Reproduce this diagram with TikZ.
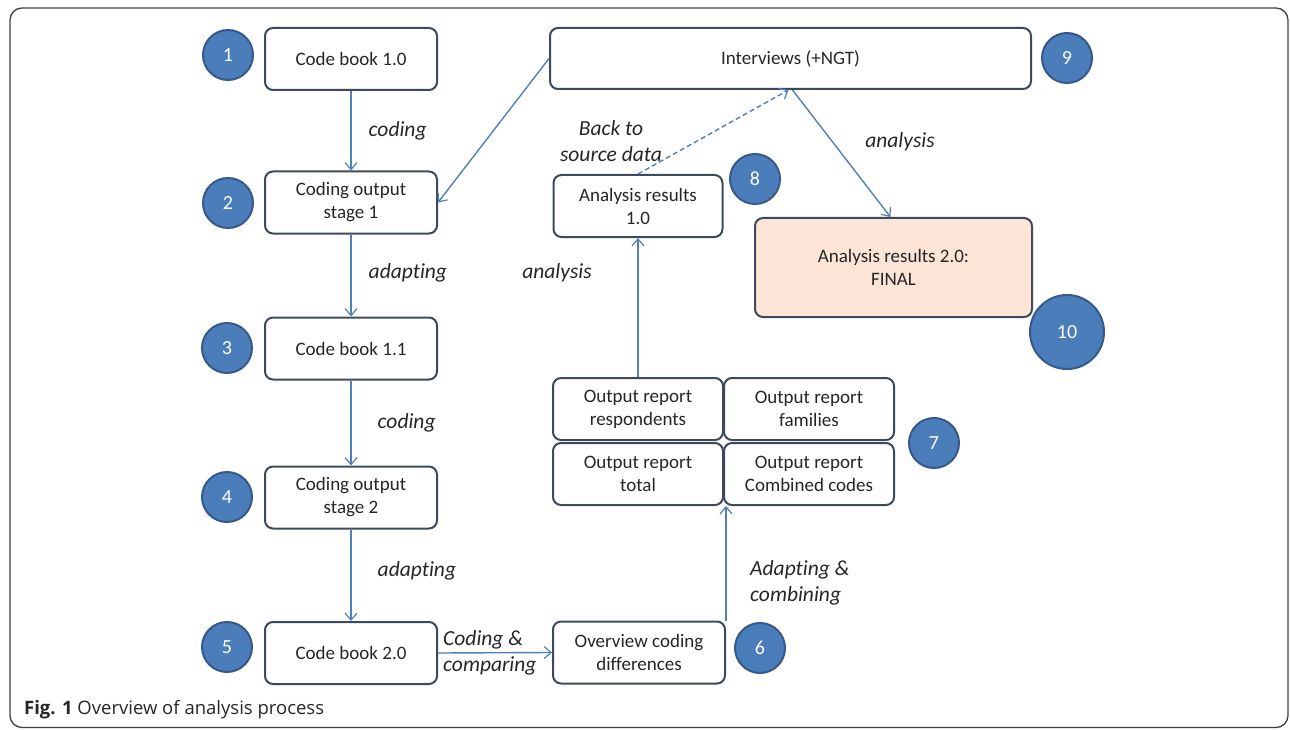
\documentclass[tikz,border=0pt]{standalone}
\usepackage{fontspec}
\setmainfont{Carlito}[Ligatures=NoCommon]
\newfontfamily\capfont{Open Sans}
\usetikzlibrary{positioning,arrows.meta}
\definecolor{boxline}{HTML}{3D4A5C}
\definecolor{numfill}{HTML}{4A7DBA}
\definecolor{numline}{HTML}{36598A}
\definecolor{flowline}{HTML}{5180B9}
\definecolor{finalfill}{HTML}{FCE4D6}
\definecolor{txt}{HTML}{262626}

\begin{document}
\begin{tikzpicture}[
			x=1pt, y=-1pt,
			>={Straight Barb[length=7pt,width=12pt,line width=1.2pt]},
			stage/.style={draw=boxline, line width=2pt, rounded corners=8pt, fill=white,
				minimum width=172pt, minimum height=62pt, inner sep=0pt, align=center,
				text=txt, font=\fontsize{19}{23}\selectfont},
			num/.style={circle, draw=numline, line width=2pt, fill=numfill, minimum size=50pt,
				inner sep=0pt, text=white, font=\fontsize{20}{24}\selectfont},
			lbl/.style={inner sep=0pt, text=txt, font=\fontsize{21.5}{26}\selectfont\itshape},
			flow/.style={->, draw=flowline, line width=1.4pt},
		]
		\useasboundingbox (0,0) rectangle (1290,730);
		\draw[black!75, line width=1.3pt, rounded corners=12pt] (10,8) rectangle (1288,727.5);

		% Left column
		\node[stage] (b1) at (351,59) {Code book 1.0};
		\node[stage] (b2) at (351,202.5) {Coding output\\stage 1};
		\node[stage] (b3) at (351,348.5) {Code book 1.1};
		\node[stage] (b4) at (351,497.5) {Coding output\\stage 2};
		\node[stage] (b5) at (351,653) {Code book 2.0};

		% Middle column
		\node[stage] (b6) at (639,652.5) {Overview coding\\differences};
		\node[stage, minimum width=170pt] (r1) at (638,409) {Output report\\respondents};
		\node[stage, minimum width=170pt] (r2) at (809,409) {Output report\\families};
		\node[stage, minimum width=170pt] (r3) at (638,474) {Output report\\total};
		\node[stage, minimum width=170pt] (r4) at (809,474) {Output report\\Combined codes};
		\node[stage, minimum width=169pt] (b8) at (638,206) {Analysis results\\1.0};

		% Top and right
		\node[stage, minimum width=481pt, minimum height=61pt] (b9) at (790.5,58.5) {Interviews (+NGT)};
		\node[stage, fill=finalfill, minimum width=277pt, minimum height=99pt] (b10) at (893.5,267.5) {Analysis results 2.0:\\FINAL};

		% Step numbers
		\node[num] (n1) at (228,55) {1};
		\node[num] (n2) at (228,203) {2};
		\node[num] (n3) at (227,348) {3};
		\node[num] (n4) at (227,497) {4};
		\node[num] (n5) at (227,647) {5};
		\node[num] (n6) at (760,648) {6};
		\node[num] (n7) at (934,443) {7};
		\node[num] (n8) at (755,179) {8};
		\node[num] (n9) at (1067,58) {9};
		\node[num, minimum size=74pt] (n10) at (1067,332) {10};

		% Connections
		\draw[flow] (b1) -- node[lbl, right=17pt] {coding} (b2);
		\draw[flow] (b2) -- node[lbl, right=17pt, pos=0.47] {adapting} (b3);
		\draw[flow] (b3) -- node[lbl, right=26pt] {coding} (b4);
		\draw[flow] (b4) -- node[lbl, right=26pt, pos=0.45] {adapting} (b5);
		\draw[flow] (b5.east) -- (b6.west);
		\draw[flow] (b6.north east) -- (b6.north east |- r3.south);
		\draw[flow] (r1.north) -- (b8.south);
		\draw[flow, dashed, dash pattern=on 5pt off 3pt] (b8.north) -- ([xshift=-2pt]b9.south);
		\draw[flow] ([xshift=2pt]b9.south) -- ([xshift=-3pt]b10.north);
		\draw[flow] (b9.west) -- (b2.east);

		% Labels
		\node[lbl, align=left, right=5pt of b5.east] {Coding \&\\comparing};
		\node[lbl, align=left, anchor=west] at (750,583) {Adapting \&\\combining};
		\node[lbl] at (557,273) {analysis};
		\node[lbl, align=center] at (611,141) {Back to\\source data};
		\node[lbl] at (900,142) {analysis};

		% Caption
		\node[anchor=base west, inner sep=0pt, text=black!85, font=\capfont\fontsize{18.5}{22}\selectfont] (cap) at (24,714) {\textbf{Fig. 1} Overview of analysis process};
	\end{tikzpicture}
\end{document}
